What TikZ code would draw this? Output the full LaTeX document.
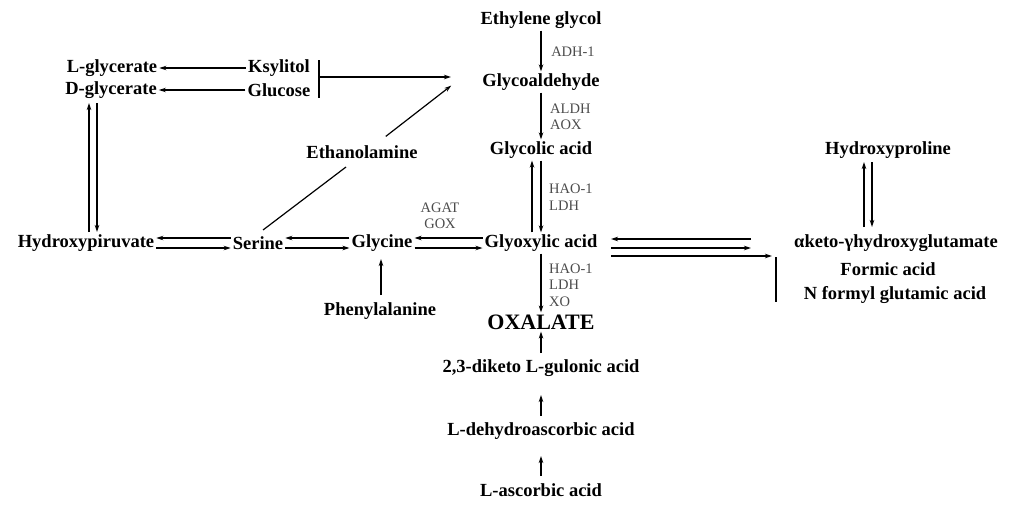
\documentclass[tikz,border=0pt]{standalone}
\usepackage{fontspec}
\setmainfont{Liberation Serif}
\usetikzlibrary{arrows.meta}
\begin{document}
\begin{tikzpicture}[x=1pt,y=-1pt,
  m/.style={font=\bfseries\fontsize{18.5}{18}\selectfont,inner sep=1pt},
  e/.style={font=\fontsize{14.5}{16.5}\selectfont,text=black!70,inner sep=0pt,align=left},
  a/.style={-{Stealth[length=7pt,width=4.5pt]},line width=1.2pt,shorten >=1pt,shorten <=1pt},
  l/.style={line width=1.2pt}]
\useasboundingbox (0,0) rectangle (1024,514);
\node[m] (eg) at (541,20) {Ethylene glycol};
\node[m] (ga) at (541,82) {Glycoaldehyde};
\node[m] (gc) at (541,150) {Glycolic acid};
\node[m] (gx) at (541,243) {Glyoxylic acid};
\node[font=\bfseries\fontsize{22}{22}\selectfont,inner sep=1pt] (ox) at (541,322) {OXALATE};
\node[m] (dk) at (541,368) {2,3-diketo L-gulonic acid};
\node[m] (dh) at (541,431) {L-dehydroascorbic acid};
\node[m] (la) at (541,490) {L-ascorbic acid};
\node[m] (lg) at (112,68) {L-glycerate};
\node[m] (dg) at (111,90) {D-glycerate};
\node[m] (ks) at (279,68) {Ksylitol};
\node[m] (gl) at (279,90) {Glucose};
\node[m] (et) at (362,152) {Ethanolamine};
\node[m] (hp) at (86,243) {Hydroxypiruvate};
\node[m] (se) at (258,243) {Serine};
\node[m] (gy) at (382,243) {Glycine};
\node[m] (ph) at (380,311) {Phenylalanine};
\node[m] (hy) at (888,150) {Hydroxyproline};
\node[m] (ak) at (896,243) {αketo-γhydroxyglutamate};
\node[m] (fa) at (888,269) {Formic acid};
\node[m] (nf) at (895,295) {N formyl glutamic acid};
\node[e] (e1) at (573,52) {ADH-1};
\node[e,anchor=west] (e2) at (550,117) {ALDH\\AOX};
\node[e,anchor=west] (e3) at (549,197) {HAO-1\\LDH};
\node[e,align=center] (e4) at (440,216) {AGAT\\GOX};
\node[e,anchor=west] (e5) at (549,285) {HAO-1\\LDH\\XO};
\coordinate (bt) at (319,60); \coordinate (bb) at (319,98);
\coordinate (bm) at (319,77); \coordinate (gat) at (452,77);
\coordinate (ga2) at (452,85); \coordinate (et1) at (346,167); \coordinate (et2) at (385,137);
\coordinate (fb1) at (776,257); \coordinate (fb2) at (776,302);
% left
\draw[a] (ks.west) -- (lg.east);
\draw[a] (gl.west) -- (dg.east);
\draw[l] (bt) -- (bb);
\draw[a] (bm) -- (gat);
\draw[l] (263,230) -- (et1);
\draw[a] (et2) -- (ga2);
\draw[a] (89,233) -- (89,102);
\draw[a] (97,102) -- (97,233);
\draw[a] ([yshift=-5pt]hp.east) -- ([yshift=-5pt]se.west);
\draw[a] ([yshift=5pt]se.west) -- ([yshift=5pt]hp.east);
\draw[a] ([yshift=-5pt]se.east) -- ([yshift=-5pt]gy.west);
\draw[a] ([yshift=5pt]gy.west) -- ([yshift=5pt]se.east);
\draw[a] ([yshift=-5pt]gy.east) -- ([yshift=-5pt]gx.west);
\draw[a] ([yshift=5pt]gx.west) -- ([yshift=5pt]gy.east);
\draw[a] (381,296) -- (381,258);
% center column
\draw[a] (eg.south) -- (ga.north);
\draw[a] (ga.south) -- (gc.north);
\draw[a] ([xshift=-9pt]gx.north) -- ([xshift=-9pt]gc.south);
\draw[a] (gc.south) -- (gx.north);
\draw[a] (gx.south) -- (ox.north);
\draw[a] (541,354) -- (ox.south);
\draw[a] (541,417) -- (541,394);
\draw[a] (541,477) -- (541,455);
% right
\draw[a] (752,239) -- (610,239);
\draw[a] (610,248) -- (752,248);
\draw[a] (610,256) -- (773,256);
\draw[l] (fb1) -- (fb2);
\draw[a] (864,228) -- (864,161);
\draw[a] (872,161) -- (872,228);
\end{tikzpicture}
\end{document}
